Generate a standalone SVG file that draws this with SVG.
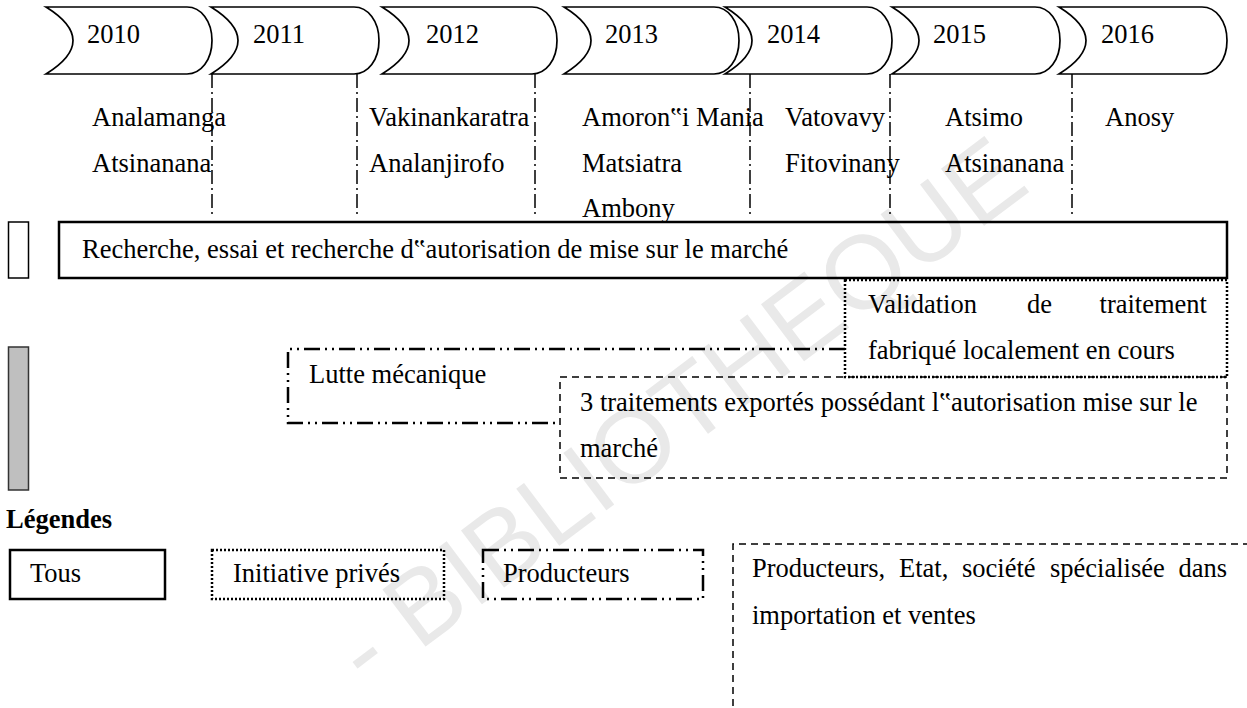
<svg xmlns="http://www.w3.org/2000/svg" width="1247" height="708" viewBox="0 0 1247 708">
<defs>
<style>
text{font-family:"Liberation Serif","Times New Roman",serif;font-size:26.5px;fill:#000}
.wm{font-family:"Liberation Sans",Arial,sans-serif;font-size:104px;fill:#e9e9e9}
.yr{fill:#fff;stroke:#000;stroke-width:1.7}
.vl{stroke:#000;stroke-width:1.5;stroke-dasharray:14 4 2 4;fill:none}
.solid{fill:none;stroke:#000;stroke-width:2.5}
.dot{fill:none;stroke:#000;stroke-width:2.5;stroke-dasharray:2 2}
.dd{fill:none;stroke:#000;stroke-width:2.5;stroke-dasharray:16 5 2 5 2 5}
.dash{fill:none;stroke:#000;stroke-width:1.5;stroke-dasharray:7 5}
.b{font-weight:bold}
</style>
</defs>
<rect width="1247" height="708" fill="#fff"/>
<text class="wm" x="0" y="0" transform="translate(368,690) rotate(-37)">- BIBLIOTHEQUE</text>

<g id="years">
<g id="y2010"><path class="yr" d="M46 7 Q100 40.5 46 74 L187 74 C201 74 212 60 212 40.5 C212 21 201 7 187 7 Z"/><text x="87" y="43">2010</text></g>
<g id="y2011"><path class="yr" d="M211 7 Q265 40.5 211 74 L354 74 C368 74 379 60 379 40.5 C379 21 368 7 354 7 Z"/><text x="253" y="43">2011</text></g>
<g id="y2012"><path class="yr" d="M382 7 Q436 40.5 382 74 L532 74 C546 74 557 60 557 40.5 C557 21 546 7 532 7 Z"/><text x="426" y="43">2012</text></g>
<g id="y2013"><path class="yr" d="M564 7 Q618 40.5 564 74 L714 74 C728 74 739 60 739 40.5 C739 21 728 7 714 7 Z"/><text x="605" y="43">2013</text></g>
<g id="y2014"><path class="yr" d="M725 7 Q779 40.5 725 74 L867 74 C881 74 892 60 892 40.5 C892 21 881 7 867 7 Z"/><text x="767" y="43">2014</text></g>
<g id="y2015"><path class="yr" d="M892 7 Q946 40.5 892 74 L1035 74 C1049 74 1060 60 1060 40.5 C1060 21 1049 7 1035 7 Z"/><text x="933" y="43">2015</text></g>
<g id="y2016"><path class="yr" d="M1059 7 Q1113 40.5 1059 74 L1202 74 C1216 74 1227 60 1227 40.5 C1227 21 1216 7 1202 7 Z"/><text x="1101" y="43">2016</text></g>
</g>

<g id="connectors">
<path class="vl" d="M212 74V218M357 74V218M535 74V218M750 74V218M890 74V218M1072 74V218"/>
</g>

<g id="regions">
<text x="92" y="126">Analamanga</text><text x="92" y="172">Atsinanana</text>
<text x="369" y="126">Vakinankaratra</text><text x="369" y="172">Analanjirofo</text>
<text x="582" y="126">Amoron‟i Mania</text><text x="582" y="172">Matsiatra</text><text x="582" y="217">Ambony</text>
<text x="785" y="126">Vatovavy</text><text x="785" y="172">Fitovinany</text>
<text x="945" y="126">Atsimo</text><text x="945" y="172">Atsinanana</text>
<text x="1105" y="126">Anosy</text>
</g>

<g id="tous-marker"><rect x="8.5" y="222" width="20" height="56" fill="#fff" stroke="#000" stroke-width="1.5"/></g>
<g id="recherche"><rect class="solid" x="59" y="222" width="1168" height="56"/><text x="82" y="258">Recherche, essai et recherche d‟autorisation de mise sur le marché</text></g>

<g id="prod-marker"><rect x="8.5" y="347" width="20" height="143" fill="#bfbfbf" stroke="#333" stroke-width="1.5"/></g>

<g id="lutte"><path class="dd" d="M845 349H288V423H560"/><text x="309" y="383">Lutte mécanique</text></g>

<g id="validation"><rect class="dot" x="845" y="280" width="382" height="97"/>
<text x="868" y="313">Validation</text><text x="1027" y="313">de</text><text x="1207" y="313" text-anchor="end">traitement</text>
<text x="868" y="359">fabriqué localement en cours</text></g>

<g id="traitements"><rect class="dash" x="560" y="377" width="667" height="101"/>
<text x="580" y="411">3 traitements exportés possédant l‟autorisation mise sur le</text>
<text x="580" y="457">marché</text></g>

<g id="legend">
<text class="b" x="6" y="528">Légendes</text>
<g id="leg-tous"><rect class="solid" x="10" y="550" width="155" height="49"/><text x="30" y="582">Tous</text></g>
<g id="leg-prive"><rect class="dot" x="212" y="550" width="232" height="49"/><text x="233" y="582">Initiative privés</text></g>
<g id="leg-prod"><rect class="dd" x="483" y="550" width="220" height="49"/><text x="503" y="582">Producteurs</text></g>
<g id="leg-all"><path class="dash" d="M1250 544H733V710"/>
<text x="752" y="577">Producteurs,</text><text x="899" y="577">Etat,</text><text x="962" y="577">société</text><text x="1050" y="577">spécialisée</text><text x="1227" y="577" text-anchor="end">dans</text>
<text x="752" y="624">importation et ventes</text></g>
</g>
</svg>
